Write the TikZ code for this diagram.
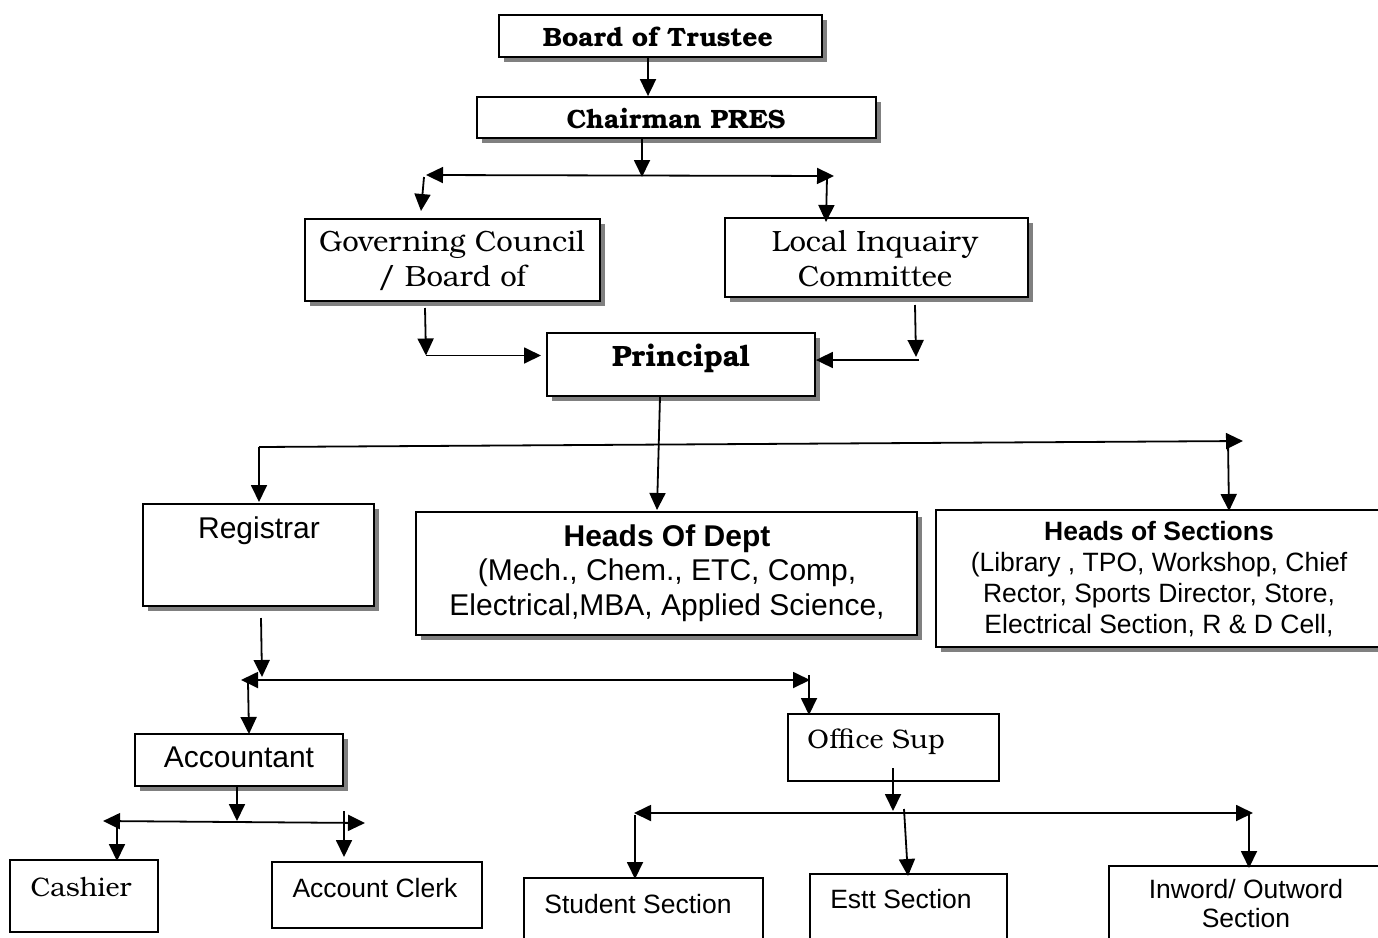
\documentclass[tikz,border=0pt]{standalone}
\usepackage{fontspec}
\setmainfont{TeX Gyre Bonum}
\setsansfont{Liberation Sans}
\usetikzlibrary{arrows.meta,shadows}
\tikzset{
  shbox/.style={draw, line width=1.8pt, fill=white, inner sep=0pt,
    drop shadow={shadow xshift=4.5pt, shadow yshift=-4.5pt, fill=gray, opacity=1}},
  plainbox/.style={draw, line width=1.8pt, fill=white, inner sep=0pt},
  tip/.style={Triangle[length=17pt,width=16pt]},
  arr/.style={line width=1.8pt, -{Triangle[length=17pt,width=16pt]}},
  darr/.style={line width=1.8pt, {Triangle[length=17pt,width=16pt]}-{Triangle[length=17pt,width=16pt]}},
  txt/.style={inner sep=0pt, align=center},
  serifb/.style={txt, font=\fontsize{26.5}{30}\selectfont\bfseries},
  serifr/.style={txt, font=\fontsize{29.3}{35}\selectfont},
  serifs/.style={txt, font=\fontsize{26.8}{30}\selectfont},
  sansl/.style={txt, font=\sffamily\fontsize{30}{35}\selectfont},
  sanss/.style={txt, font=\sffamily\fontsize{26.5}{31}\selectfont},
}
\begin{document}
\begin{tikzpicture}[x=1pt,y=-1pt]
\clip (0,0) rectangle (1378,937);
\fill[white] (0,0) rectangle (1378,937);

% boxes
\node[shbox, minimum width=323pt, minimum height=42pt] (bot) at (660.5,36) {};
\node[shbox, minimum width=399pt, minimum height=41pt] (ch) at (676.5,117.5) {};
\node[shbox, minimum width=295pt, minimum height=82pt] (gov) at (452.5,260) {};
\node[shbox, minimum width=303pt, minimum height=79pt] (lic) at (876.5,257.5) {};
\node[shbox, minimum width=268pt, minimum height=63pt] (pri) at (681,364.5) {};
\node[shbox, minimum width=231pt, minimum height=102pt] (reg) at (258.5,555) {};
\node[shbox, minimum width=501pt, minimum height=123pt] (hod) at (666.5,573.5) {};
\node[shbox, minimum width=454pt, minimum height=137pt] (hos) at (1163,578.5) {};
\node[shbox, minimum width=208pt, minimum height=52pt] (acc) at (239,760) {};
\node[plainbox, minimum width=211pt, minimum height=67pt] (ofs) at (893.5,747.5) {};
\node[plainbox, minimum width=148pt, minimum height=72pt] (cas) at (84,896) {};
\node[plainbox, minimum width=210pt, minimum height=66pt] (acl) at (377,895) {};
\node[plainbox, minimum width=239pt, minimum height=84pt] (stu) at (643.5,920) {};
\node[plainbox, minimum width=197pt, minimum height=88pt] (est) at (908.5,918) {};
\node[plainbox, minimum width=291pt, minimum height=96pt] (inw) at (1254.5,914) {};

% texts
\node[serifb] (tbot) at (658,37) {Board of Trustee};
\node[serifb] (tch) at (676,119) {Chairman PRES};
\node[serifr] (tgov) at (452,261) {Governing Council\\/ Board of};
\node[serifr] (tlic) at (875,259) {Local Inquairy\\Committee};
\node[txt, font=\fontsize{29.4}{32}\selectfont\bfseries] (tpri) at (681,358) {Principal};
\node[sansl] (treg) at (259,531) {Registrar};
\node[txt, font=\sffamily\fontsize{30}{34.5}\selectfont] (thod) at (667,573)
  {\textbf{Heads Of Dept}\\(Mech., Chem., ETC, Comp,\\Electrical,MBA, Applied Science,};
\node[txt, font=\sffamily\fontsize{26.5}{31}\selectfont] (thos) at (1159,579)
  {\textbf{Heads of Sections}\\(Library , TPO, Workshop, Chief\\Rector, Sports Director, Store,\\Electrical Section, R \& D Cell,};
\node[sansl] (tacc) at (239,757) {Accountant};
\node[serifs] (tofs) at (876,742) {Office Sup};
\node[serifs] (tcas) at (81,887) {Cashier};
\node[sanss] (tacl) at (375,888) {Account Clerk};
\node[sanss] (tstu) at (638,904) {Student Section};
\node[sanss] (test) at (901,899) {Estt Section};
\node[txt, font=\sffamily\fontsize{26.5}{29}\selectfont] (tinw) at (1246,904) {Inword/ Outword\\Section};

% connector points
\coordinate (xa) at (648,0);
\coordinate (j1) at (642,177);
\coordinate (j1L) at (426,175);
\coordinate (j1R) at (834,176);
\coordinate (g0) at (424,177);
\coordinate (g1) at (421,211);
\coordinate (l0) at (827,177);
\coordinate (l1) at (826,222);
\coordinate (g2) at (425,308);
\coordinate (g3) at (426,355.5);
\coordinate (g4) at (541,355.5);
\coordinate (l2) at (915,305);
\coordinate (l3) at (916,357);
\coordinate (l4) at (919,360);
\coordinate (p1) at (660,0);
\coordinate (p2) at (657,510);
\coordinate (h1) at (259,447);
\coordinate (h2) at (1243,441);
\coordinate (h3) at (259,502);
\coordinate (s0) at (1228,442);
\coordinate (s1) at (1229,511);
\coordinate (r0) at (261,618);
\coordinate (r1) at (262,677);
\coordinate (k1L) at (241,680);
\coordinate (k1R) at (810,680);
\coordinate (a0) at (248,682);
\coordinate (a1) at (249,734);
\coordinate (o0) at (809,675);
\coordinate (o1) at (809,715);
\coordinate (c0) at (237,0);
\coordinate (c1) at (237,821);
\coordinate (m1L) at (103,821);
\coordinate (m1R) at (365,823);
\coordinate (ca0) at (117,822);
\coordinate (ca1) at (117,861);
\coordinate (cl0) at (344,811);
\coordinate (cl1) at (344,857);
\coordinate (q0) at (893,768);
\coordinate (q1) at (893,811);
\coordinate (n1L) at (634,813);
\coordinate (n1R) at (1253,813);
\coordinate (st0) at (635,815);
\coordinate (st1) at (635,879);
\coordinate (e0) at (904,809);
\coordinate (e1) at (908,876);
\coordinate (i0) at (1249,813);
\coordinate (i1) at (1249,868);

% connectors
\draw[arr] (bot.south -| xa) -- (ch.north -| xa);
\draw[arr] (ch.south -| j1) -- (j1);
\draw[darr] (j1L) -- (j1R);
\draw[arr] (g0) -- (g1);
\draw[arr] (l0) -- (l1);
\draw[arr] (g2) -- (g3);
\draw[arr] (g3) -- (g4);
\draw[arr] (l2) -- (l3);
\draw[arr] (l4) -- (pri.east |- l4);
\draw[arr] (pri.south -| p1) -- (p2);
\draw[arr] (h3 |- h1) -- (h2);
\draw[arr] (h1) -- (h3);
\draw[arr] (s0) -- (s1);
\draw[arr] (r0) -- (r1);
\draw[darr] (k1L) -- (k1R);
\draw[arr] (a0) -- (a1);
\draw[arr] (o0) -- (o1);
\draw[arr] (acc.south -| c0) -- (c1);
\draw[darr] (m1L) -- (m1R);
\draw[arr] (ca0) -- (ca1);
\draw[arr] (cl0) -- (cl1);
\draw[arr] (q0) -- (q1);
\draw[darr] (n1L) -- (n1R);
\draw[arr] (st0) -- (st1);
\draw[arr] (e0) -- (e1);
\draw[arr] (i0) -- (i1);
\end{tikzpicture}
\end{document}
